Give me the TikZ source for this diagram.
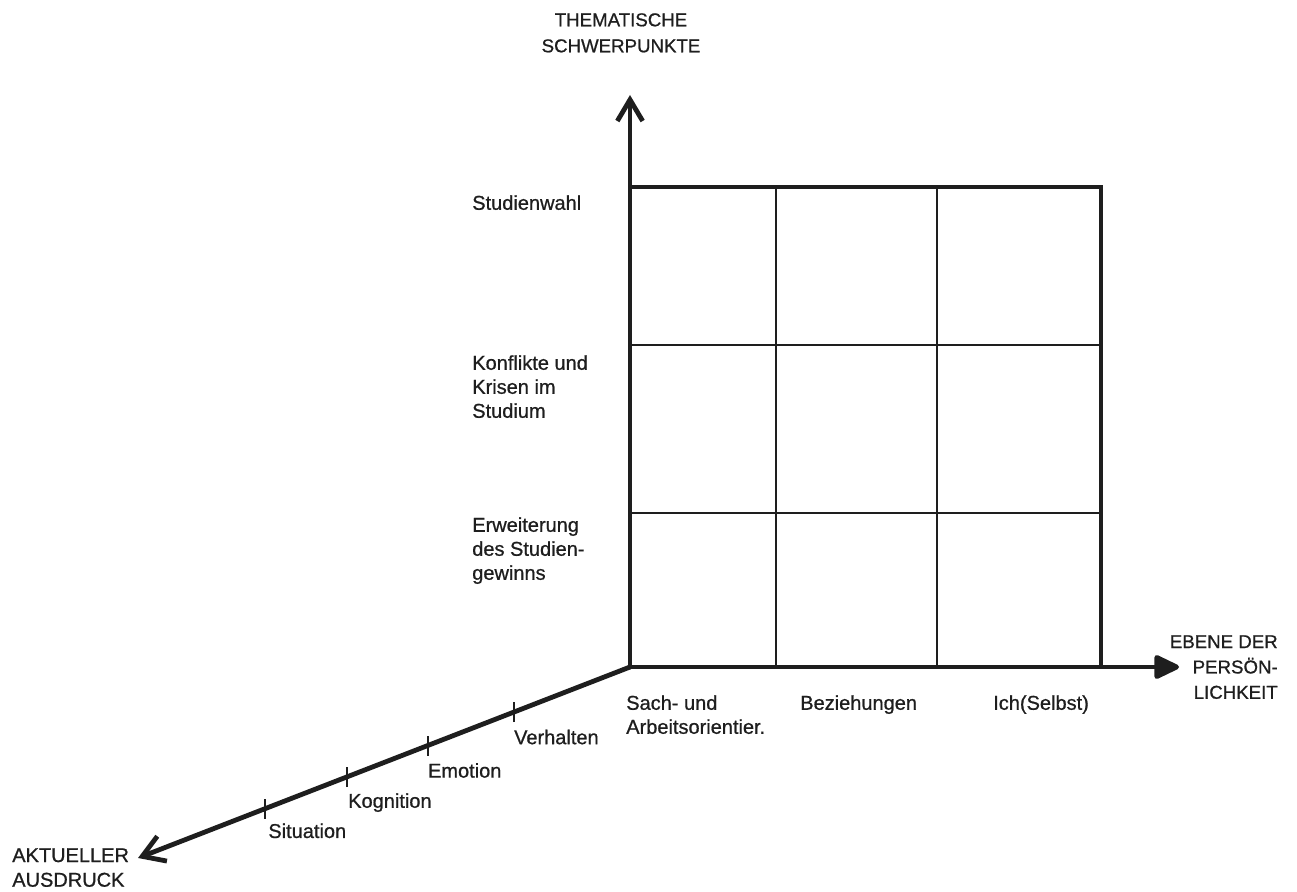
\documentclass[tikz,border=0pt]{standalone}
\usepackage{fontspec}
\setmainfont{Liberation Sans}[FakeBold=0.8]
\usetikzlibrary{arrows.meta,positioning}
\definecolor{ink}{RGB}{30,30,30}

\begin{document}
\begin{tikzpicture}[x=0.75pt,y=0.75pt,yscale=-1,xscale=1,
  axisline/.style={draw=ink, line width=3.6pt, line cap=round},
  frameline/.style={draw=ink, line width=3pt},
  gridline/.style={draw=ink, line width=1.4pt},
  tickline/.style={draw=ink, line width=1.6pt},
  lbl/.style={text=ink, inner sep=0pt, align=left, font=\fontsize{15}{18}\selectfont},
  caplbl/.style={text=ink, inner sep=0pt, font=\fontsize{14}{19.5}\selectfont}]
\useasboundingbox (0,0) rectangle (1297,892);

% axis end points
\coordinate (O) at (630,667);
\coordinate (yEnd) at (630,95);
\coordinate (xEnd) at (1179,667);
\coordinate (zEnd) at (138,858);

% grid
\draw[gridline] (776,187) -- (776,667);
\draw[gridline] (937,187) -- (937,667);
\draw[gridline] (630,345) -- (1101,345);
\draw[gridline] (630,513) -- (1101,513);
\draw[frameline] (630,187) -- (1101,187) -- (1101,667);

% axes
\draw[axisline, -{Straight Barb[length=16pt,width=19pt]}] (O) -- (yEnd);
\draw[axisline, -{Triangle[length=21pt,width=19pt,round]}] (O) -- (xEnd);
\draw[axisline, -{Straight Barb[length=16pt,width=20pt]}] (O) -- (zEnd);

% ticks on the diagonal
\path (O) -- (zEnd)
  coordinate[pos=0.236] (tVer) coordinate[pos=0.411] (tEmo)
  coordinate[pos=0.576] (tKog) coordinate[pos=0.741] (tSit);
\foreach \t in {tVer,tEmo,tKog,tSit}
  \draw[tickline] ([yshift=7.5pt]\t) -- ([yshift=-7.5pt]\t);

\node[lbl, below right=13pt and 0pt of tVer] (lVer) {Verhalten};
\node[lbl, below right=13pt and 0pt of tEmo] (lEmo) {Emotion};
\node[lbl, below right=12pt and 1pt of tKog] (lKog) {Kognition};
\node[lbl, below right=11pt and 2pt of tSit] (lSit) {Situation};

% row labels
\node[lbl, anchor=north west] (lWahl) at (472,195) {Studienwahl};
\node[lbl, anchor=north west] (lKonf) at (472,355) {Konflikte und\\Krisen im\\Studium};
\node[lbl, anchor=north west] (lErw) at (472,517) {Erweiterung\\des Studien-\\gewinns};

% column labels
\node[lbl, anchor=north west] (lSach) at (626,695) {Sach- und\\Arbeitsorientier.};
\node[lbl, anchor=north west] (lBez) at (800,695) {Beziehungen};
\node[lbl, anchor=north west] (lIch) at (993,695) {Ich(Selbst)};

% axis titles
\node[caplbl, align=center, anchor=north] (tThema) at (621,13) {THEMATISCHE\\SCHWERPUNKTE};
\node[caplbl, align=right, anchor=north east, font=\fontsize{14}{19}\selectfont] (tEbene) at (1278,635) {EBENE DER\\PERSÖN-\\LICHKEIT};
\node[caplbl, align=left, anchor=north west, font=\fontsize{15}{18.5}\selectfont] (tAkt) at (12,848) {AKTUELLER\\AUSDRUCK};
\end{tikzpicture}
\end{document}
